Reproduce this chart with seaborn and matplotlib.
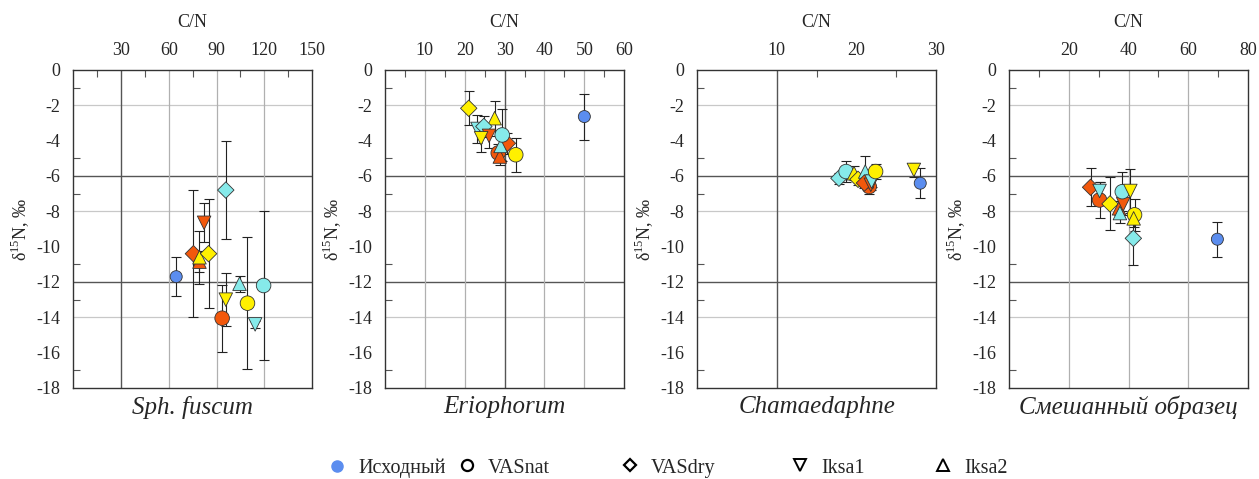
import pandas as pd
import seaborn as sns
import matplotlib.pyplot as plt
from matplotlib.lines import Line2D

# --- data ----------------------------------------------------------------
titles = ['Sph. fuscum', 'Eriophorum', 'Chamaedaphne', 'Смешанный образец']
treatments = ['Исходный', 'VASnat', 'VASdry', 'Iksa1', 'Iksa2']

# Sph. fuscum
sph_treat = ['Исходный', 'VASdry', 'Iksa2', 'Iksa2', 'Iksa1', 'VASdry', 'VASdry',
             'Iksa1', 'VASnat', 'Iksa2', 'VASnat', 'Iksa1', 'VASnat']
sph_group = ['blue', 'orange', 'orange', 'yellow', 'orange', 'yellow', 'cyan',
             'yellow', 'orange', 'cyan', 'yellow', 'cyan', 'cyan']
sph_cn = [64.7, 75.5, 79.3, 79.3, 82.2, 85.0, 95.8, 95.8, 93.5, 104.4, 109.4, 114.2, 119.5]
sph_d15n = [-11.7, -10.4, -10.85, -10.6, -8.65, -10.4, -6.8, -13.0, -14.05, -12.1, -13.2, -14.4, -12.2]
sph_err = [1.1, 3.6, 0.6, 1.5, 1.1, 3.1, 2.75, 1.5, 1.9, 0.45, 3.75, 0.2, 4.2]

# Eriophorum
eri_treat = ['Исходный', 'VASdry', 'Iksa2', 'VASnat', 'Iksa2', 'Iksa1', 'VASdry',
             'Iksa1', 'Iksa1', 'VASdry', 'Iksa2', 'VASnat', 'VASnat']
eri_group = ['blue', 'yellow', 'yellow', 'orange', 'orange', 'cyan', 'cyan',
             'orange', 'yellow', 'orange', 'cyan', 'cyan', 'yellow']
eri_cn = [50.0, 21.0, 27.5, 28.4, 28.8, 23.2, 24.8, 26.1, 24.1, 30.7, 29.0, 29.4, 32.8]
eri_d15n = [-2.64, -2.17, -2.73, -4.7, -4.9, -3.34, -3.2, -3.73, -3.87, -4.15, -4.3, -3.68, -4.8]
eri_err = [1.3, 0.95, 1.0, 0.5, 0.5, 0.8, 0.6, 0.7, 0.75, 0.6, 0.8, 1.45, 0.95]

# Chamaedaphne
cha_treat = ['Исходный', 'Iksa1', 'VASdry', 'VASnat', 'Iksa2', 'VASdry', 'Iksa2',
             'VASnat', 'Iksa2', 'VASdry', 'Iksa1', 'Iksa1', 'VASnat']
cha_group = ['blue', 'yellow', 'cyan', 'cyan', 'yellow', 'yellow', 'cyan',
             'orange', 'orange', 'orange', 'orange', 'cyan', 'yellow']
cha_cn = [28.0, 27.2, 17.8, 18.7, 19.7, 20.2, 21.1, 21.6, 21.3, 21.0, 21.8, 21.9, 22.4]
cha_d15n = [-6.41, -5.66, -6.13, -5.75, -5.85, -6.19, -5.75, -6.6, -6.3, -6.4, -6.5, -6.32, -5.75]
cha_err = [0.85, 0.4, 0.3, 0.6, 0.4, 0.3, 0.9, 0.4, 0.3, 0.3, 0.3, 0.3, 0.45]

# Смешанный образец
mix_treat = ['Исходный', 'VASdry', 'VASnat', 'Iksa1', 'VASdry', 'Iksa2', 'Iksa2',
             'Iksa1', 'VASnat', 'VASdry', 'VASnat', 'Iksa2', 'Iksa1']
mix_group = ['blue', 'orange', 'orange', 'cyan', 'yellow', 'orange', 'cyan',
             'orange', 'cyan', 'cyan', 'yellow', 'yellow', 'yellow']
mix_cn = [69.7, 27.3, 30.3, 30.3, 33.8, 36.8, 37.1, 38.2, 37.9, 41.6, 42.0, 41.7, 40.6]
mix_d15n = [-9.58, -6.64, -7.36, -6.85, -7.58, -7.83, -8.1, -7.6, -6.89, -9.53, -8.2, -8.4, -6.85]
mix_err = [1.0, 1.07, 1.0, 0.5, 1.5, 0.4, 0.55, 0.6, 1.1, 1.5, 0.9, 0.5, 1.25]

panels = [
    (sph_treat, sph_group, sph_cn, sph_d15n, sph_err),
    (eri_treat, eri_group, eri_cn, eri_d15n, eri_err),
    (cha_treat, cha_group, cha_cn, cha_d15n, cha_err),
    (mix_treat, mix_group, mix_cn, mix_d15n, mix_err),
]

x_limits = [(0, 150), (0, 60), (0, 30), (0, 80)]
x_ticks = [[30, 60, 90, 120, 150], [10, 20, 30, 40, 50, 60], [10, 20, 30], [20, 40, 60, 80]]
x_minor = [[15, 45, 75, 105, 135], [5, 15, 25, 35, 45, 55], [15, 25], [10, 30, 50, 70]]
x_dark = [[30], [30], [10], []]
x_light = [[60, 90, 120], [10, 20, 40, 50], [], [20, 40, 60]]

palette = {'blue': '#5b8def', 'orange': '#f2580c', 'yellow': '#fff000', 'cyan': '#86eaea'}
markers = {'Исходный': 'o', 'VASnat': 'o', 'VASdry': 'D', 'Iksa1': 'v', 'Iksa2': '^'}
sizes = {'Исходный': 75, 'VASnat': 110, 'VASdry': 70, 'Iksa1': 95, 'Iksa2': 95}

# --- drawing ---------------------------------------------------------------
sns.set_style('white')
plt.rcParams['font.family'] = ['Liberation Serif', 'DejaVu Serif']
plt.rcParams['mathtext.fontset'] = 'custom'
plt.rcParams['mathtext.rm'] = 'Liberation Serif'
plt.rcParams['axes.unicode_minus'] = False

fig = plt.figure(figsize=(12.59, 4.79), dpi=100)

for i, (treat, group, cn, d15n, err) in enumerate(panels):
    ax = fig.add_axes([0.058 + i * 0.2478, 0.19, 0.19, 0.664])
    df = pd.DataFrame({'treat': treat, 'group': group, 'cn': cn, 'd15n': d15n, 'err': err})

    for v in [-2, -8, -14]:
        ax.axhline(v, color='#c8c8c8', lw=0.9, zorder=0)
    for v in [-6, -12]:
        ax.axhline(v, color='#555555', lw=1.0, zorder=0)
    for v in x_light[i]:
        ax.axvline(v, color='#b0b0b0', lw=0.9, zorder=0)
    for v in x_dark[i]:
        ax.axvline(v, color='#555555', lw=1.0, zorder=0)

    ax.errorbar(df['cn'], df['d15n'], yerr=df['err'], fmt='none', ecolor='#222222',
                elinewidth=0.8, capsize=3.5, capthick=0.8, zorder=2)
    sns.scatterplot(data=df, x='cn', y='d15n', hue='group', style='treat', size='treat',
                    palette=palette, markers=markers, sizes=sizes,
                    edgecolor='#333333', linewidth=0.6, legend=False, ax=ax, zorder=3)

    ax.set_xlim(*x_limits[i])
    ax.set_ylim(-18, 0)
    ax.xaxis.tick_top()
    ax.xaxis.set_label_position('top')
    ax.set_xticks(x_ticks[i])
    ax.set_xticks(x_minor[i], minor=True)
    ax.set_yticks(range(0, -19, -2))
    ax.set_yticks([-1, -5, -7, -11, -13, -17], minor=True)
    ax.tick_params(which='major', length=0, labelsize=13)
    ax.tick_params(axis='x', which='major', pad=8)
    ax.tick_params(axis='y', which='major', pad=9)
    ax.tick_params(which='minor', direction='in', length=5, width=0.8, color='#555555',
                   top=True, left=True, bottom=False)
    ax.set_xlabel('C/N', fontsize=13, labelpad=11)
    ax.set_ylabel('δ$^{15}$N, ‰', fontsize=13, labelpad=4)
    for s in ax.spines.values():
        s.set_color('#333333')
        s.set_linewidth(1.0)
    ax.text(0.5, -0.025, titles[i], transform=ax.transAxes, ha='center', va='top',
            style='italic', fontsize=18)

handles = [
    Line2D([], [], ls='none', marker='o', ms=8, mfc=palette['blue'], mec=palette['blue']),
    Line2D([], [], ls='none', marker='o', ms=8, mfc='none', mec='black', mew=1.6),
    Line2D([], [], ls='none', marker='D', ms=6.5, mfc='none', mec='black', mew=1.6),
    Line2D([], [], ls='none', marker='v', ms=8, mfc='none', mec='black', mew=1.4),
    Line2D([], [], ls='none', marker='^', ms=8, mfc='none', mec='black', mew=1.4),
]
# legend entries are spread unevenly in the original, so place each one
legend_x = [327, 457, 620, 790, 933]
for h, label, px in zip(handles, treatments, legend_x):
    fig.legend([h], [label], loc='center left', bbox_to_anchor=(px / 1259, 0.023),
               frameon=False, fontsize=14.5, handlelength=1.0, handletextpad=0.55,
               borderpad=0, borderaxespad=0)

fig.savefig('out.png', dpi=100)
